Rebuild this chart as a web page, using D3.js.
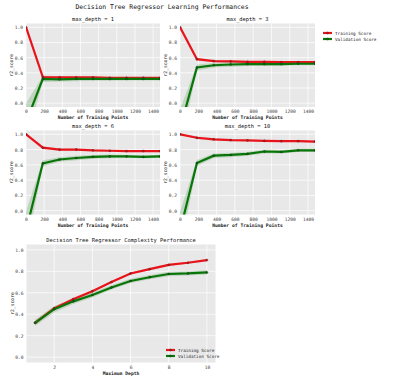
<!DOCTYPE html>
<meta charset="utf-8">
<style>
body { margin: 0; background: #fff; }
text { font-family: "DejaVu Sans Mono", monospace; }
.tick text { fill: #444; font-size: 4.6px; }
.tick line { stroke: #777; }
.domain { display: none; }
.grid line { stroke: #fff; stroke-width: 0.7px; }
</style>
<body>
<div id="chart"></div>
<script src="https://d3js.org/d3.v7.min.js"></script>
<script>
// training set sizes used for the learning curves
var sizes = [1, 185, 369, 554, 738, 923, 1107, 1292, 1476];
var xTicks = [0, 200, 400, 600, 800, 1000, 1200, 1400];
var yTicks = [0, 0.2, 0.4, 0.6, 0.8, 1.0];

var depthsShown = [1, 3, 6, 10];
var trainD1 = [1.0, 0.345, 0.34, 0.34, 0.34, 0.335, 0.335, 0.335, 0.335];
var validD1 = [-0.25, 0.32, 0.315, 0.32, 0.32, 0.32, 0.32, 0.32, 0.32];
var trainD3 = [1.0, 0.58, 0.555, 0.55, 0.545, 0.545, 0.54, 0.54, 0.54];
var validD3 = [-0.33, 0.47, 0.50, 0.51, 0.515, 0.515, 0.515, 0.52, 0.52];
var trainD6 = [1.0, 0.825, 0.80, 0.80, 0.79, 0.785, 0.78, 0.78, 0.78];
var validD6 = [-0.26, 0.62, 0.67, 0.69, 0.705, 0.71, 0.71, 0.705, 0.71];
var trainD10 = [1.0, 0.955, 0.935, 0.925, 0.92, 0.915, 0.91, 0.91, 0.905];
var validD10 = [-0.26, 0.625, 0.72, 0.73, 0.745, 0.775, 0.77, 0.79, 0.79];
var trainStd = [0, 0.02, 0.015, 0.01, 0.01, 0.01, 0.01, 0.01, 0.01];
var validStd = [0.25, 0.04, 0.03, 0.03, 0.025, 0.025, 0.02, 0.02, 0.02];

var depths = [1, 2, 3, 4, 5, 6, 7, 8, 9, 10];
var depthTicks = [2, 4, 6, 8, 10];
var trainCx = [0.32, 0.455, 0.54, 0.615, 0.70, 0.78, 0.82, 0.86, 0.88, 0.905];
var validCx = [0.32, 0.447, 0.52, 0.58, 0.65, 0.71, 0.745, 0.775, 0.78, 0.79];
var trainCxStd = [0.02, 0.015, 0.015, 0.01, 0.01, 0.01, 0.01, 0.01, 0.01, 0.01];
var validCxStd = [0.03, 0.03, 0.025, 0.025, 0.02, 0.02, 0.02, 0.02, 0.02, 0.02];

var curves = [[trainD1, validD1], [trainD3, validD3], [trainD6, validD6], [trainD10, validD10]];

var W = 403, H = 382;
var svg = d3.select("#chart").append("svg")
  .attr("width", W).attr("height", H);

svg.append("text")
  .attr("x", 162).attr("y", 9)
  .attr("text-anchor", "middle")
  .attr("font-size", "6.4px")
  .attr("fill", "#111")
  .text("Decision Tree Regressor Learning Performances");

var red = "#e8141b", green = "#087508";
var clipId = 0;

function panel(box, xs, xDomain, xt, train, valid, tStd, vStd, title, xlabel) {
  var x = d3.scaleLinear().domain(xDomain).range([box.x0, box.x1]);
  var y = d3.scaleLinear().domain([-0.05, 1.05]).range([box.y1, box.y0]);
  var g = svg.append("g");

  g.append("rect")
    .attr("x", box.x0).attr("y", box.y0)
    .attr("width", box.x1 - box.x0).attr("height", box.y1 - box.y0)
    .attr("fill", "#e8e8e8");

  var grid = g.append("g").attr("class", "grid");
  grid.selectAll(".gx").data(xt).enter().append("line")
    .attr("x1", d => x(d)).attr("x2", d => x(d))
    .attr("y1", box.y0).attr("y2", box.y1);
  grid.selectAll(".gy").data(yTicks).enter().append("line")
    .attr("x1", box.x0).attr("x2", box.x1)
    .attr("y1", d => y(d)).attr("y2", d => y(d));

  g.append("g")
    .attr("transform", "translate(0," + box.y1 + ")")
    .call(d3.axisBottom(x).tickValues(xt).tickSize(0).tickPadding(3).tickFormat(d3.format("d")));
  g.append("g")
    .attr("transform", "translate(" + box.x0 + ",0)")
    .call(d3.axisLeft(y).tickValues(yTicks).tickSize(0).tickPadding(3).tickFormat(d3.format(".1f")));

  var id = "clip" + (clipId++);
  svg.append("clipPath").attr("id", id).append("rect")
    .attr("x", box.x0).attr("y", box.y0)
    .attr("width", box.x1 - box.x0).attr("height", box.y1 - box.y0);
  var p = g.append("g").attr("clip-path", "url(#" + id + ")");

  var series = [[train, tStd, red], [valid, vStd, green]];
  series.forEach(function(s) {
    var pts = xs.map(function(v, i) { return {x: v, y: s[0][i], sd: s[1][i]}; });
    p.append("path").datum(pts)
      .attr("fill", s[2]).attr("opacity", 0.18)
      .attr("d", d3.area().x(d => x(d.x)).y0(d => y(d.y - d.sd)).y1(d => y(d.y + d.sd)));
  });
  series.forEach(function(s) {
    var pts = xs.map(function(v, i) { return {x: v, y: s[0][i]}; });
    p.append("path").datum(pts)
      .attr("fill", "none").attr("stroke", s[2]).attr("stroke-width", 2.2)
      .attr("d", d3.line().x(d => x(d.x)).y(d => y(d.y)));
    p.selectAll(null).data(pts).enter().append("circle")
      .attr("cx", d => x(d.x)).attr("cy", d => y(d.y)).attr("r", 1)
      .attr("fill", s[2]).attr("stroke", "#222").attr("stroke-width", 0.4);
  });

  svg.append("text")
    .attr("x", (box.x0 + box.x1) / 2).attr("y", box.y0 - 3)
    .attr("text-anchor", "middle").attr("font-size", "5.4px").attr("fill", "#111")
    .text(title);
  svg.append("text")
    .attr("x", (box.x0 + box.x1) / 2).attr("y", box.y1 + 12)
    .attr("text-anchor", "middle").attr("font-size", "4.7px")
    .attr("font-weight", "bold").attr("fill", "#222")
    .text(xlabel);
  svg.append("text")
    .attr("transform", "translate(" + (box.x0 - 13) + "," + ((box.y0 + box.y1) / 2) + ") rotate(-90)")
    .attr("text-anchor", "middle").attr("font-size", "4.7px").attr("fill", "#222")
    .text("r2_score");
}

var boxes = [
  {x0: 26, x1: 160, y0: 23.5, y1: 107},
  {x0: 180, x1: 315, y0: 23.5, y1: 107},
  {x0: 26, x1: 160, y0: 130.5, y1: 214.5},
  {x0: 180, x1: 315, y0: 130.5, y1: 214.5}
];

curves.forEach(function(c, i) {
  panel(boxes[i], sizes, [0, 1476], xTicks, c[0], c[1], trainStd, validStd,
        "max_depth = " + depthsShown[i], "Number of Training Points");
});

panel({x0: 26.5, x1: 215.5, y0: 244.5, y1: 362.5}, depths, [0.55, 10.45], depthTicks,
      trainCx, validCx, trainCxStd, validCxStd,
      "Decision Tree Regressor Complexity Performance", "Maximum Depth");

function legend(lx, ly) {
  var items = [["Training Score", red], ["Validation Score", green]];
  var lg = svg.append("g");
  items.forEach(function(it, i) {
    var yy = ly + i * 6;
    lg.append("line")
      .attr("x1", lx).attr("x2", lx + 9).attr("y1", yy).attr("y2", yy)
      .attr("stroke", it[1]).attr("stroke-width", 2.2);
    lg.append("circle").attr("cx", lx + 4.5).attr("cy", yy).attr("r", 1)
      .attr("fill", it[1]).attr("stroke", "#222").attr("stroke-width", 0.4);
    lg.append("text")
      .attr("x", lx + 12).attr("y", yy + 1.5)
      .attr("font-size", "4.3px").attr("fill", "#222")
      .text(it[0]);
  });
}
legend(323, 33);
legend(166, 350);
</script>
</body>
